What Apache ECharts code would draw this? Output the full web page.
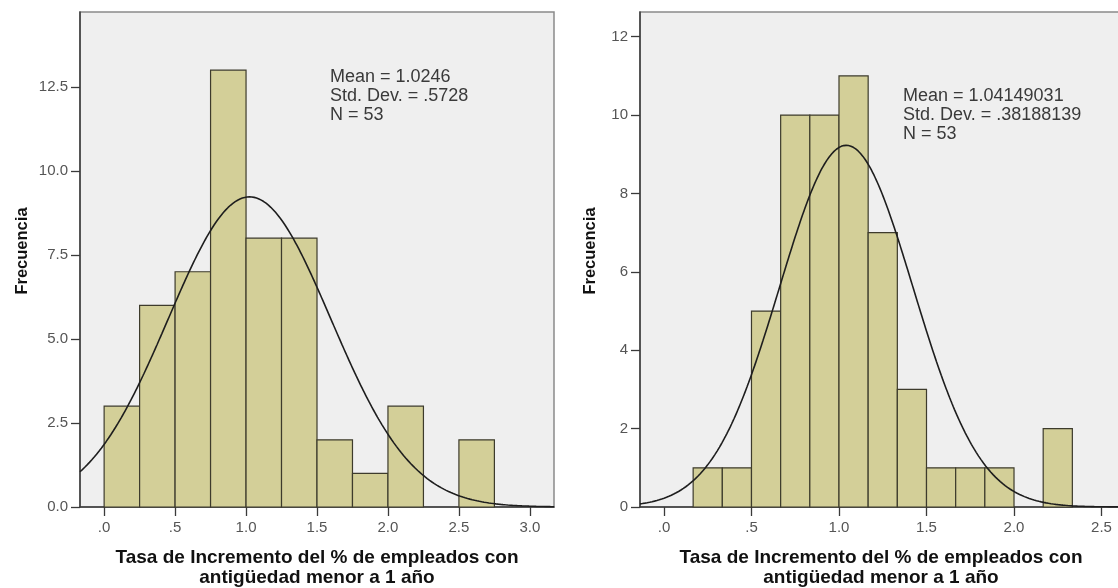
<!DOCTYPE html>
<html>
<head>
<meta charset="utf-8">
<script src="https://cdn.jsdelivr.net/npm/echarts@6/dist/echarts.min.js"></script>
<style>
  html, body { margin: 0; padding: 0; background: #ffffff; }
  #chart { width: 1118px; height: 588px; }
</style>
</head>
<body>
<div id="chart"></div>
<script>
// ---- Left histogram: bins of width 0.25 ----
const leftBinWidth = 0.25;
const leftBinStarts = [0.00, 0.25, 0.50, 0.75, 1.00, 1.25, 1.50, 1.75, 2.00, 2.25, 2.50];
const leftCounts    = [3, 6, 7, 13, 8, 8, 2, 1, 3, 0, 2];
const leftMean = 1.0246;
const leftSd = 0.5728;
const leftN = 53;
const leftXTicks = [0, 0.5, 1.0, 1.5, 2.0, 2.5, 3.0];
const leftYTicks = [0, 2.5, 5.0, 7.5, 10.0, 12.5];

// ---- Right histogram: bins of width 1/6 ----
const rightBinWidth = 1 / 6;
const rightBinStarts = [1/6, 2/6, 3/6, 4/6, 5/6, 6/6, 7/6, 8/6, 9/6, 10/6, 11/6, 12/6, 13/6];
const rightCounts    = [1, 1, 5, 10, 10, 11, 7, 3, 1, 1, 1, 0, 2];
const rightMean = 1.04149031;
const rightSd = 0.38188139;
const rightN = 53;
const rightXTicks = [0, 0.5, 1.0, 1.5, 2.0, 2.5];
const rightYTicks = [0, 2, 4, 6, 8, 10, 12];

const xTitle = 'Tasa de Incremento del % de empleados con\nantigüedad menor a 1 año';
const yTitle = 'Frecuencia';

const FONT = "'Liberation Sans', Arial, sans-serif";
const BAR_FILL = '#d3cf98';
const BAR_EDGE = '#3d3b2c';

// SPSS-style number: drop the leading zero (".5728")
function spss(v, digits) {
  return v.toFixed(digits).replace(/^0\./, '.');
}

function binData(starts, counts, width) {
  return starts.map((s, i) => [s, s + width, counts[i]]);
}

// Expected frequency curve of a normal distribution with the given statistics
function normalCurve(mean, sd, n, width, xmin, xmax) {
  const pts = [];
  const k = n * width / (sd * Math.sqrt(2 * Math.PI));
  const steps = 400;
  for (let i = 0; i <= steps; i++) {
    const x = xmin + (xmax - xmin) * i / steps;
    const z = (x - mean) / sd;
    pts.push([x, k * Math.exp(-0.5 * z * z)]);
  }
  return pts;
}

function renderBin(params, api) {
  const count = api.value(2);
  if (!count) return null;
  const p0 = api.coord([api.value(0), 0]);
  const p1 = api.coord([api.value(1), count]);
  return {
    type: 'rect',
    shape: { x: p0[0], y: p1[1], width: p1[0] - p0[0], height: p0[1] - p1[1] },
    style: { fill: BAR_FILL, stroke: BAR_EDGE, lineWidth: 1.2 }
  };
}

const leftX = [-0.17, 3.17];
const rightX = [-0.137, 2.617];

function xAxisCfg(grid, range, ticks) {
  return {
    type: 'value', gridIndex: grid, min: range[0], max: range[1],
    name: xTitle, nameLocation: 'middle', nameGap: 41,
    nameTextStyle: { fontFamily: FONT, fontSize: 19, fontWeight: 'bold', color: '#111', lineHeight: 20 },
    axisLine: { show: true, onZero: false, lineStyle: { color: '#3a3a3a', width: 1.5 } },
    axisTick: { show: true, length: 9, customValues: ticks, lineStyle: { color: '#3a3a3a', width: 1.3 } },
    axisLabel: {
      customValues: ticks, margin: 13, fontFamily: FONT, fontSize: 15, color: '#555555',
      formatter: v => spss(v, 1)
    },
    splitLine: { show: false }
  };
}

function yAxisCfg(grid, max, ticks, fmt) {
  return {
    type: 'value', gridIndex: grid, min: 0, max: max,
    axisLine: { show: true, onZero: false, lineStyle: { color: '#3a3a3a', width: 1.5 } },
    axisTick: { show: true, length: 9, customValues: ticks, lineStyle: { color: '#3a3a3a', width: 1.3 } },
    axisLabel: {
      customValues: ticks, margin: 12, fontFamily: FONT, fontSize: 15, color: '#555555',
      formatter: fmt
    },
    splitLine: { show: false }
  };
}

function statsText(mean, meanDigits, sd, sdDigits, n) {
  return 'Mean = ' + spss(mean, meanDigits) + '\nStd. Dev. = ' + spss(sd, sdDigits) + '\nN = ' + n;
}

// Vertical axis title, rotated to read bottom-to-top
function yTitleText(cx, cy) {
  return {
    type: 'text', x: cx, y: cy, rotation: Math.PI / 2, z: 10,
    style: {
      text: yTitle, font: 'bold 16.5px ' + FONT, fill: '#111',
      align: 'center', verticalAlign: 'middle'
    }
  };
}

const chart = echarts.init(document.getElementById('chart'), null, { renderer: 'canvas' });

const gridStyle = {
  top: 12, bottom: 81, show: true, backgroundColor: '#efefef',
  borderColor: '#8a8a8a', borderWidth: 1.5, outerBoundsMode: 'none', containLabel: false
};

chart.setOption({
  animation: false,
  backgroundColor: '#ffffff',
  grid: [
    Object.assign({ left: 80, right: 564 }, gridStyle),
    Object.assign({ left: 640, right: -4 }, gridStyle)
  ],
  xAxis: [
    xAxisCfg(0, leftX, leftXTicks),
    xAxisCfg(1, rightX, rightXTicks)
  ],
  yAxis: [
    yAxisCfg(0, 14.73, leftYTicks, v => v.toFixed(1)),
    yAxisCfg(1, 12.63, rightYTicks, v => String(v))
  ],
  series: [
    {
      type: 'custom', xAxisIndex: 0, yAxisIndex: 0,
      data: binData(leftBinStarts, leftCounts, leftBinWidth),
      encode: { x: [0, 1], y: 2 },
      renderItem: renderBin, z: 2
    },
    {
      type: 'line', xAxisIndex: 0, yAxisIndex: 0, showSymbol: false, smooth: false,
      data: normalCurve(leftMean, leftSd, leftN, leftBinWidth, leftX[0], leftX[1]),
      lineStyle: { color: '#1e1e1e', width: 1.6 }, z: 3, clip: true
    },
    {
      type: 'custom', xAxisIndex: 1, yAxisIndex: 1,
      data: binData(rightBinStarts, rightCounts, rightBinWidth),
      encode: { x: [0, 1], y: 2 },
      renderItem: renderBin, z: 2
    },
    {
      type: 'line', xAxisIndex: 1, yAxisIndex: 1, showSymbol: false, smooth: false,
      data: normalCurve(rightMean, rightSd, rightN, rightBinWidth, rightX[0], rightX[1]),
      lineStyle: { color: '#1e1e1e', width: 1.6 }, z: 3, clip: true
    }
  ],
  graphic: [
    yTitleText(22, 251),
    yTitleText(590, 251),
    {
      type: 'text', left: 330, top: 68, z: 10,
      style: { text: statsText(leftMean, 4, leftSd, 4, leftN), font: '18px ' + FONT, fill: '#3a3a3a', lineHeight: 19 }
    },
    {
      type: 'text', left: 903, top: 87, z: 10,
      style: { text: statsText(rightMean, 8, rightSd, 8, rightN), font: '18px ' + FONT, fill: '#3a3a3a', lineHeight: 19 }
    }
  ]
});
</script>
</body>
</html>
